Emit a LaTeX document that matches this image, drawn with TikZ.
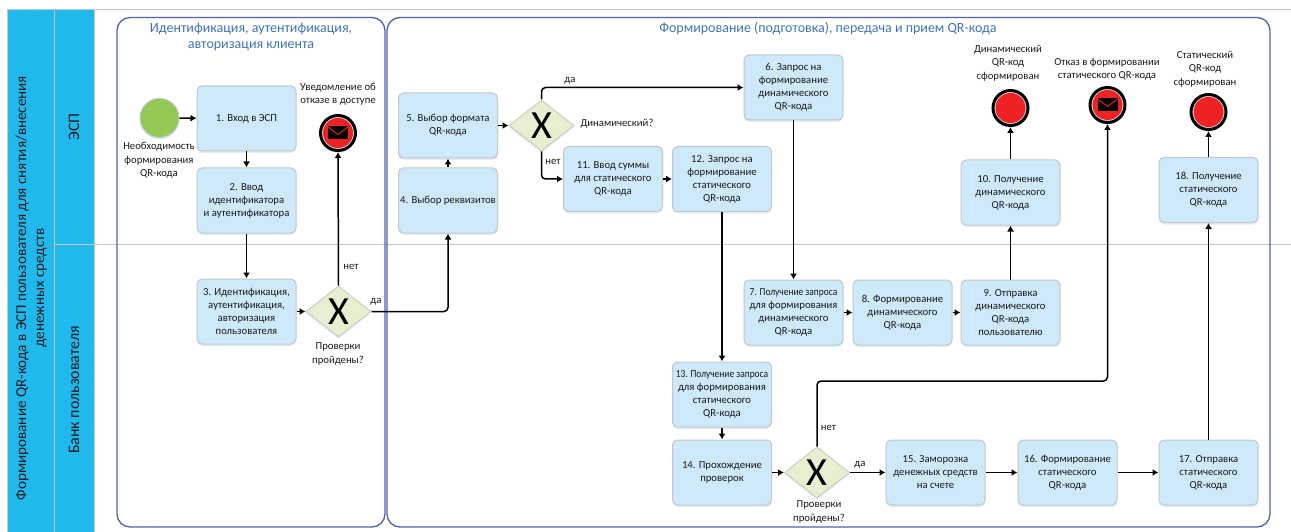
\documentclass[tikz,border=0pt]{standalone}
\usepackage{fontspec}
\setmainfont{Carlito}
\usetikzlibrary{arrows.meta,shapes.geometric,shadows}
\definecolor{lane}{HTML}{1FB9EE}
\definecolor{laneline}{HTML}{C4C6C8}
\definecolor{taskfill}{HTML}{CDE9FA}
\definecolor{taskline}{HTML}{C3C7CA}
\definecolor{taskshadow}{HTML}{E2EEF6}
\definecolor{gatefill}{HTML}{E6EFD0}
\definecolor{gateline}{HTML}{CBCFBF}
\definecolor{startfill}{HTML}{92C853}
\definecolor{endred}{HTML}{EE2224}
\definecolor{groupline}{HTML}{4F63AE}
\definecolor{grouptitle}{HTML}{3F74BD}
\definecolor{txt}{HTML}{1A1A1A}
\tikzset{
  lanebox/.style={fill=lane,draw=laneline,line width=1pt},
  groupbox/.style={draw=groupline,line width=1.3pt,rounded corners=13pt},
  grouplabel/.style={text=grouptitle,font=\fontsize{14}{16}\selectfont,align=center,inner sep=0pt},
  lanelabel/.style={text=txt,font=\fontsize{16}{18}\selectfont,align=center,inner sep=0pt,rotate=90},
  poollabel/.style={lanelabel,font=\fontsize{15.1}{18}\selectfont},
  taskbox/.style={rectangle,rounded corners=5pt,draw=taskline,line width=1pt,fill=taskfill,
    minimum width=99pt,minimum height=65pt,inner sep=0pt,align=center,text=txt,
    font=\fontsize{10.7}{13}\selectfont,
    general shadow={shadow xshift=0pt,shadow yshift=-2pt,fill=taskshadow}},
  note/.style={text=txt,font=\fontsize{10.7}{13.4}\selectfont,align=center,inner sep=0pt},
  gateway/.style={diamond,aspect=1.27,draw=gateline,line width=1pt,fill=gatefill,
    minimum width=65pt,minimum height=51pt,inner sep=0pt,text=black,
    font=\fontsize{40}{40}\selectfont,
    general shadow={shadow xshift=0pt,shadow yshift=-2pt,fill=taskshadow}},
  startev/.style={circle,draw=taskline,line width=1pt,fill=startfill,minimum size=39pt,inner sep=0pt,
    general shadow={shadow xshift=0pt,shadow yshift=-2pt,fill=taskshadow}},
  endev/.style={circle,draw=black,line width=3pt,fill=gray!30,minimum size=35pt,inner sep=0pt,
    path picture={\fill[endred] (path picture bounding box.center) circle (15pt);},
    general shadow={shadow xshift=0pt,shadow yshift=-2pt,fill=taskshadow}},
  msgev/.style={circle,draw=black,line width=3pt,fill=gray!30,minimum size=35pt,inner sep=0pt,
    path picture={
      \fill[endred] (path picture bounding box.center) circle (15pt);
      \begin{scope}[shift={(path picture bounding box.center)}]
        \fill[black] (-10pt,-6.5pt) rectangle (10pt,6.5pt);
        \draw[endred,line width=.9pt] (-10pt,6pt) -- (0pt,-1.5pt) -- (10pt,6pt);
      \end{scope}},
    general shadow={shadow xshift=0pt,shadow yshift=-2pt,fill=taskshadow}},
  flow/.style={draw=black,line width=1.5pt,rounded corners=4pt,-{Latex[length=6pt,width=7pt]}},
}
\newcommand{\narrowtxt}[1]{\scalebox{.88}[1]{#1}}
\begin{document}
\begin{tikzpicture}[x=1pt,y=-1pt]
\useasboundingbox (0,0) rectangle (1291,532);
% pool and lanes
\fill[white] (0,0) rectangle (1291,532);
\draw[lanebox] (7,9.5) rectangle (54,532);
\draw[lanebox] (54,9.5) rectangle (94,532);
\draw[laneline,line width=1pt] (54,9.5) -- (1291,9.5);
\draw[laneline,line width=1pt] (54,244) -- (1291,244);
\draw[laneline,line width=1pt] (94,9.5) -- (94,532);
\node[poollabel] (poolt) at (31,288) {Формирование QR-кода в ЭСП пользователя для снятия/внесения\\денежных средств};
\node[lanelabel] (lanea) at (74,127) {ЭСП};
\node[lanelabel] (laneb) at (74,390) {Банк пользователя};
% groups
\draw[groupbox] (117,17.5) rectangle (385,527);
\draw[groupbox] (387,17.5) rectangle (1270,527);
\node[grouplabel] (ga) at (251,37) {Идентификация, аутентификация,\\авторизация клиента};
\node[grouplabel] (gb) at (828,29) {Формирование (подготовка), передача и прием QR-кода};
% events
\node[startev] (start) at (159.5,118) {};
\node[msgev] (endmsga) at (338,133) {};
\node[endev] (enddyn) at (1010.5,108) {};
\node[msgev] (endmsgb) at (1107.5,105) {};
\node[endev] (endst) at (1208.5,112) {};
% tasks
\node[taskbox] (b1) at (246.5,118.5) {1. Вход в ЭСП};
\node[taskbox] (b2) at (246.5,200.5) {2. Ввод\\идентификатора\\и аутентификатора};
\node[taskbox] (b3) at (246.5,311.5) {3. Идентификация,\\аутентификация,\\авторизация\\пользователя};
\node[taskbox] (b4) at (448,200.5) {4. Выбор реквизитов};
\node[taskbox] (b5) at (448,125.5) {5. Выбор формата\\QR-кода};
\node[taskbox] (b6) at (793.5,87.5) {6. Запрос на\\формирование\\динамического\\QR-кода};
\node[taskbox] (b7) at (793.5,312.5) {\narrowtxt{7. Получение запроса}\\для формирования\\динамического\\QR-кода};
\node[taskbox] (b8) at (902.5,312.5) {8. Формирование\\динамического\\QR-кода};
\node[taskbox] (b9) at (1010.5,312.5) {9. Отправка\\динамического\\QR-кода\\пользователю};
\node[taskbox] (b10) at (1010.5,192.5) {10. Получение\\динамического\\QR-кода};
\node[taskbox] (b11) at (613,179) {11. Ввод суммы\\для статического\\QR-кода};
\node[taskbox] (b12) at (722,179) {12. Запрос на\\формирование\\статического\\QR-кода};
\node[taskbox] (b13) at (722,394.5) {\narrowtxt{13. Получение запроса}\\для формирования\\статического\\QR-кода};
\node[taskbox] (b14) at (722,472.5) {14. Прохождение\\проверок};
\node[taskbox] (b15) at (935.5,472.5) {15. Заморозка\\денежных средств\\на счете};
\node[taskbox] (b16) at (1067.5,472.5) {16. Формирование\\статического\\QR-кода};
\node[taskbox] (b17) at (1208.5,472.5) {17. Отправка\\статического\\QR-кода};
\node[taskbox] (b18) at (1208.5,190) {18. Получение\\статического\\QR-кода};
% gateways
\node[gateway] (gw1) at (338.5,311.5) {X};
\node[gateway] (gw2) at (541.5,125.5) {X};
\node[gateway] (gw3) at (817,472.5) {X};
\coordinate (turn) at (817,381);
% connectors
\draw[flow] (start) -- (b1);
\draw[flow] (b1) -- (b2);
\draw[flow] (b2) -- (b3);
\draw[flow] (b3) -- (gw1);
\draw[flow] (gw1.north) -- (endmsga.south);
\draw[flow] (gw1.east) -| (b4.south);
\draw[flow] (b4) -- (b5);
\draw[flow] (b5) -- (gw2);
\draw[flow] (gw2.north) |- (b6.west);
\draw[flow] (gw2.south) |- (b11.west);
\draw[flow] (b6.south) -- (b7.north);
\draw[flow] (b7) -- (b8);
\draw[flow] (b8) -- (b9);
\draw[flow] (b9) -- (b10);
\draw[flow] (b10) -- (enddyn);
\draw[flow] (b11) -- (b12);
\draw[flow] (b12) -- (b13);
\draw[flow] (b13) -- (b14);
\draw[flow] (b14) -- (gw3);
\draw[flow] (gw3.east) -- (b15.west);
\draw[flow] (gw3.north) -- (turn) -| (endmsgb.south);
\draw[flow] (b15) -- (b16);
\draw[flow] (b16.east) -- (b17.west);
\draw[flow] (b17) -- (b18);
\draw[flow] (b18) -- (endst);
% labels
\node[note] (n1) at (159,160.5) {Необходимость\\формирования\\QR-кода};
\node[note] (n2) at (338,94.5) {Уведомление об\\отказе в доступе};
\node[note] (n3) at (351,267) {нет};
\node[note] (n4) at (376,302) {да};
\node[note] (n5) at (338,354) {Проверки\\пройдены?};
\node[note] (n6) at (570,81) {да};
\node[note] (n7) at (617,124) {Динамический?};
\node[note] (n8) at (553,162) {нет};
\node[note] (n9) at (1008,63) {Динамический\\QR-код\\сформирован};
\node[note] (n10) at (1107,69.5) {Отказ в формировании\\статического QR-кода};
\node[note] (n11) at (1205,69) {Статический\\QR-код\\сформирован};
\node[note] (n12) at (828.5,428) {нет};
\node[note] (n13) at (860,465) {да};
\node[note] (n14) at (819,512) {Проверки\\пройдены?};
\end{tikzpicture}
\end{document}
